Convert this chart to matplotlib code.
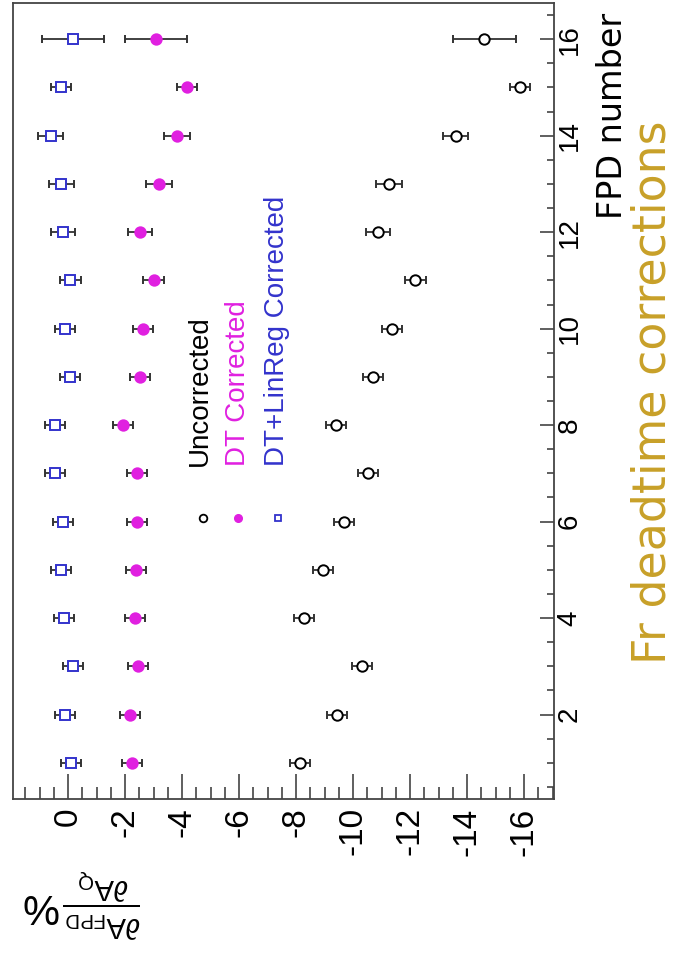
import numpy as np
import matplotlib
matplotlib.use('Agg')
import matplotlib.pyplot as plt
from matplotlib.ticker import MultipleLocator

plt.rcParams['font.family'] = ['Liberation Sans', 'DejaVu Sans']
plt.rcParams['axes.unicode_minus'] = False
plt.rcParams['mathtext.fontset'] = 'custom'
plt.rcParams['mathtext.rm'] = 'Liberation Sans'
plt.rcParams['mathtext.it'] = 'Liberation Sans:italic'

# FPD detectors and asymmetry sensitivities (%)
fpd = np.arange(1, 17)
uncorr = [-8.14, -9.43, -10.33, -8.27, -8.95, -9.67, -10.52, -9.39,
          -10.70, -11.37, -12.18, -10.86, -11.27, -13.60, -15.85, -14.60]
dt_corr = [-2.25, -2.16, -2.46, -2.34, -2.38, -2.41, -2.41, -1.94,
           -2.53, -2.63, -3.00, -2.53, -3.19, -3.82, -4.17, -3.09]
lin_corr = [-0.10, 0.10, -0.18, 0.13, 0.26, 0.17, 0.44, 0.44,
            -0.06, 0.09, -0.08, 0.19, 0.23, 0.61, 0.23, -0.18]
err = [0.35, 0.35, 0.35, 0.35, 0.35, 0.35, 0.35, 0.35,
       0.35, 0.35, 0.37, 0.42, 0.45, 0.45, 0.35, 1.10]

labels = ['Uncorrected', 'DT Corrected', 'DT+LinReg Corrected']
col_unc = 'black'
col_dt = '#e020e0'
col_lin = '#3333cc'

fig = plt.figure(figsize=(6.76, 9.57), dpi=100)
ax = fig.add_axes([13/676, 1-799/957, 541/676, 796/957])

ebkw = dict(ecolor='#333333', elinewidth=1.3, capsize=3, capthick=1.3,
            linestyle='none', ms=7.5, mew=1.4)
ax.errorbar(uncorr, fpd, xerr=err, marker='o', mfc='white', mec=col_unc, **ebkw)
ax.errorbar(dt_corr, fpd, xerr=err, marker='o', mfc=col_dt, mec=col_dt, **ebkw)
ax.errorbar(lin_corr, fpd, xerr=err, marker='s', mfc='white', mec=col_lin,
            **dict(ebkw, ms=7))

ax.set_xlim(1.93, -17.05)
ax.set_ylim(0.25, 16.75)
ax.xaxis.set_major_locator(MultipleLocator(2))
ax.xaxis.set_minor_locator(MultipleLocator(0.5))
ax.yaxis.set_major_locator(MultipleLocator(2))
ax.yaxis.set_minor_locator(MultipleLocator(0.5))

for s in ax.spines.values():
    s.set_color('#444444')
    s.set_linewidth(1.3)

ax.tick_params(axis='x', which='both', direction='in', bottom=True, top=False,
               color='#444444', width=1.2)
ax.tick_params(axis='x', which='major', length=18, labelsize=24,
               labelrotation=90, pad=6)
ax.tick_params(axis='x', which='minor', length=9)
ax.tick_params(axis='y', which='both', direction='in', left=False, right=True,
               labelleft=False, labelright=True, color='#444444', width=1.2)
ax.tick_params(axis='y', which='major', length=10, labelsize=20,
               labelrotation=90, pad=2)
ax.tick_params(axis='y', which='minor', length=5)
for lab in ax.get_yticklabels():
    lab.set_va('center')

# legend, drawn rotated like the rest of the picture
leg_x = [0.351, 0.416, 0.490]
ax.plot(leg_x[0], 0.353, 'o', ms=5.5, mfc='white', mec=col_unc, mew=1.3,
        transform=ax.transAxes, clip_on=False)
ax.plot(leg_x[1], 0.353, 'o', ms=5.5, mfc=col_dt, mec=col_dt,
        transform=ax.transAxes, clip_on=False)
ax.plot(leg_x[2], 0.353, 's', ms=5, mfc='white', mec=col_lin, mew=1.3,
        transform=ax.transAxes, clip_on=False)
for x, t, c in zip([0.346, 0.415, 0.488], labels, [col_unc, col_dt, col_lin]):
    ax.text(x, 0.418, t, color=c, fontsize=20, rotation=90,
            ha='center', va='bottom', transform=ax.transAxes)

fig.text(612/676, 1-116/957, 'FPD number', fontsize=24, rotation=90,
         ha='center', va='center', family='DejaVu Sans')
fig.text(1.0, 1-392/957, 'Fr deadtime corrections', fontsize=33,
         rotation=90, ha='right', va='center', color='#c8a028',
         family='DejaVu Sans')
fig.text(82/676, 1-903/957,
         r'$\frac{\partial \mathrm{A}_{\mathrm{FPD}}}{\partial \mathrm{A}_{\mathrm{Q}}}\%$',
         fontsize=30, rotation=180, ha='center', va='center')

fig.savefig('out.png', dpi=100)
